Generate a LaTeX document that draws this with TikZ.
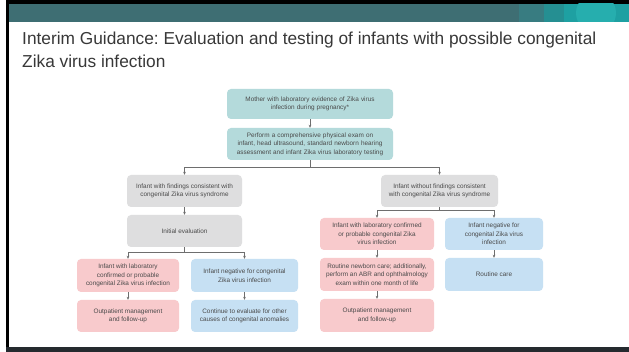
\documentclass[tikz,border=0pt]{standalone}
\usepackage{fontspec}
\setmainfont{Liberation Sans}
\frenchspacing
\usetikzlibrary{positioning, arrows.meta}
\definecolor{bannercolor}{HTML}{3E6E73}
\definecolor{footercolor}{HTML}{252A2F}
\definecolor{tealbox}{HTML}{B4DADB}
\definecolor{greybox}{HTML}{DEDEDF}
\definecolor{pinkbox}{HTML}{F8CACC}
\definecolor{bluebox}{HTML}{C6E0F3}
\definecolor{boxtext}{HTML}{4A4A4A}
\definecolor{linecolor}{HTML}{6E6E6E}

\begin{document}
\begin{tikzpicture}[x=1pt,y=-1pt]
  \tikzset{
    stepbox/.style={
      rounded corners=4pt,
      align=center,
      font=\fontsize{6.4}{8.5}\selectfont,
      text=boxtext,
      inner sep=0pt,
      anchor=center
    },
    mombox/.style={stepbox, fill=tealbox, minimum width=166pt, minimum height=30pt, text width=160pt},
    findbox/.style={stepbox, fill=greybox, minimum height=32pt},
    posbox/.style={stepbox, fill=pinkbox, minimum height=33pt},
    negbox/.style={stepbox, fill=bluebox, minimum height=33pt},
    link/.style={draw=linecolor, line width=0.7pt},
    arrow/.style={link, -{Stealth[length=3pt, width=2.6pt]}}
  }

  % Slide frame and banner
  \useasboundingbox (0,0) rectangle (629,352);
  \fill[white] (0,0) rectangle (629,352);
  \fill[black] (6,0) rectangle (629,4);
  \fill[black] (6,0) rectangle (9,352);
  \fill[footercolor] (6,347) rectangle (629,352);
  \fill[bannercolor] (9,4) rectangle (629,22);
  \begin{scope}
    \clip (509,4) rectangle (629,22);
    \fill[bannercolor!90!cyan] (519,4) rectangle (544,22);
    \fill[bannercolor!75!cyan!80!teal] (544,4) rectangle (564,22);
    \fill[bannercolor!60!cyan!80!teal] (564,4) rectangle (629,22);
    \fill[teal!75!cyan!85!white] (596,13) circle (20pt);
  \end{scope}

  % Title
  \node[anchor=north west, align=left, text=black!78, inner sep=0pt,
        font=\fontsize{17.3}{23}\selectfont] (title) at (22,32)
    {Interim Guidance: Evaluation and testing of infants with possible congenital\\Zika virus infection};

  % Top of the chart
  \node[mombox] at (310, 104) (mother) {Mother with laboratory evidence of Zika virus\\infection during pregnancy*};
  \node[mombox, minimum height=32pt] at (310, 144) (perform) {Perform a comprehensive physical exam on\\infant, head ultrasound, standard newborn hearing\\assessment and infant Zika virus laboratory testing};

  % Left branch
  \node[findbox, minimum width=115pt] at (184.5, 191) (withzs) {Infant with findings consistent with\\congenital Zika virus syndrome};
  \node[findbox, minimum width=115pt] at (184.5, 231) (initeval) {Initial evaluation};
  \node[posbox, minimum width=102pt] at (128, 275.5) (labconfL) {Infant with laboratory\\confirmed or probable\\congenital Zika virus infection};
  \node[negbox, minimum width=107pt] at (244.5, 275.5) (negL) {Infant negative for congenital\\Zika virus infection};
  \node[posbox, minimum width=102pt, minimum height=32pt] at (128, 316) (outpatL) {Outpatient management\\and follow-up};
  \node[negbox, minimum width=107pt, minimum height=32pt] at (244.5, 316) (continueL) {Continue to evaluate for other\\causes of congenital anomalies};

  % Right branch
  \node[findbox, minimum width=117pt] at (439.5, 191) (withoutzs) {Infant without findings consistent\\with congenital Zika virus syndrome};
  \node[posbox, minimum width=114pt, minimum height=32pt] at (377, 234) (labconfR) {Infant with laboratory confirmed\\or probable congenital Zika\\virus infection};
  \node[negbox, minimum width=98pt, minimum height=32pt] at (494, 234) (negR) {Infant negative for\\congenital Zika virus\\infection};
  \node[posbox, minimum width=114pt] at (377, 274.5) (routineR) {Routine newborn care; additionally,\\perform an ABR and ophthalmology\\exam within one month of life};
  \node[negbox, minimum width=98pt] at (494, 274.5) (routinecare) {Routine care};
  \node[posbox, minimum width=114pt] at (377, 315.5) (outpatR) {Outpatient management\\and follow-up};

  % Connectors
  \coordinate (splitTop) at (310, 167);
  \coordinate (splitL) at (184.5, 252);
  \coordinate (splitR) at (439.5, 210);
  \draw[arrow] (mother) -- (perform);
  \draw[link] (perform.south) -- (splitTop);
  \draw[arrow] (splitTop) -| (withzs.north);
  \draw[arrow] (splitTop) -| (withoutzs.north);
  \draw[arrow] (withzs) -- (initeval);
  \draw[link] (initeval.south) -- (splitL);
  \draw[arrow] (splitL) -| (labconfL.north);
  \draw[arrow] (splitL) -| (negL.north);
  \draw[arrow] (labconfL) -- (outpatL);
  \draw[arrow] (negL) -- (continueL);
  \draw[link] (withoutzs.south) -- (splitR);
  \draw[arrow] (splitR) -| (labconfR.north);
  \draw[arrow] (splitR) -| (negR.north);
  \draw[arrow] (labconfR) -- (routineR);
  \draw[arrow] (routineR) -- (outpatR);
  \draw[arrow] (negR) -- (routinecare);
\end{tikzpicture}
\end{document}
